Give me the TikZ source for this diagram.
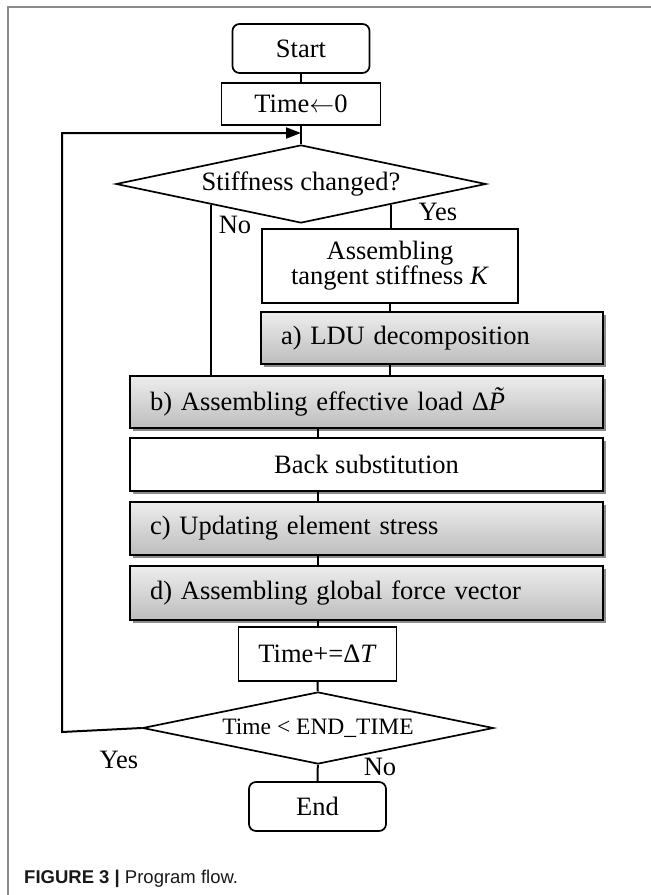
\documentclass[tikz,border=0pt]{standalone}
\usepackage{fontspec}
\setmainfont{Liberation Serif}
\newfontfamily\capfont{Liberation Sans}
\usetikzlibrary{shapes.geometric,arrows.meta,shadows}
\begin{document}
\begin{tikzpicture}[x=1pt,y=-1pt,
  every node/.style={font=\fontsize{26.5}{25}\selectfont, inner sep=0pt},
  plain/.style={draw=black, line width=1.7pt, fill=white, align=center},
  term/.style={plain, rounded corners=7pt},
  shad/.style={drop shadow={shadow xshift=2.5pt, shadow yshift=-2.5pt, fill=black!45, opacity=1}},
  shade/.style={draw=black, line width=1.7pt, top color=black!7, bottom color=black!26, shad},
  lefttext/.style={align=left, inner xsep=20pt},
  dec/.style={draw=black, line width=1.7pt, diamond, fill=white, align=center, shape aspect=4.8},
  conn/.style={line width=2pt},
  lbl/.style={font=\fontsize{26.5}{26}\selectfont}]
\useasboundingbox (0,0) rectangle (651,895);
% frame
\draw[black!45, line width=1.5pt] (651,7) -- (8,7) -- (8,895);
% nodes
\node[term, minimum width=137pt, minimum height=49pt] (start) at (301,48.5) {Start};
\node[plain, minimum width=159pt, minimum height=42pt] (t0) at (301,104) {Time$\leftarrow$0};
\node[dec, minimum width=370pt, minimum height=78pt] (d1) at (301,184) {Stiffness changed?};
\node[plain, minimum width=256pt, minimum height=74pt] (K) at (390,266) {Assembling\\tangent stiffness \textit{K}};
\node[shade, lefttext, text width=302pt, minimum height=52pt] (a) at (432,338) {a) LDU decomposition};
\node[shade, lefttext, text width=433pt, minimum height=52pt] (b) at (366.5,402) {b) Assembling effective load Δ\textit{\~P}};
\node[plain, shad, minimum width=473pt, minimum height=53pt] (back) at (366.5,464.5) {Back substitution};
\node[shade, lefttext, text width=433pt, minimum height=53pt] (c) at (366.5,528.5) {c) Updating element stress};
\node[shade, lefttext, text width=433pt, minimum height=54pt] (d) at (366.5,593) {d) Assembling global force vector};
\node[plain, minimum width=158pt, minimum height=54pt] (tplus) at (317.5,654) {Time+=Δ\textit{T}};
\node[dec, minimum width=351pt, minimum height=72pt, font=\fontsize{23.5}{24}\selectfont] (d2) at (318,728) {Time < END\_TIME};
\node[term, minimum width=137pt, minimum height=49pt] (end) at (317.5,806.5) {End};
% labels
\node[lbl] (yes1) at (438,212) {Yes};
\node[lbl] (no1) at (235,225) {No};
\node[lbl] (yes2) at (119,760) {Yes};
\node[lbl] (no2) at (380,767) {No};
% connectors
\coordinate (tip) at (301,133);
\coordinate (lc) at (62,732);
\draw[conn] (start) -- (t0);
\draw[conn] (t0) -- (d1);
\draw[conn, -{Triangle[length=15pt, width=11pt]}] (d2.west) -- (lc) |- (tip);
\draw[conn] (d1.193) -- (d1.193 |- b.north);
\draw[conn] (d1.347) -- (d1.347 |- K.north);
\draw[conn] (K.south) -- (K.south |- a.north);
\draw[conn] (K.south |- a.south) -- (K.south |- b.north);
\draw[conn] (b.south -| tplus) -- (back.north -| tplus);
\draw[conn] (back.south -| tplus) -- (c.north -| tplus);
\draw[conn] (c.south -| tplus) -- (d.north -| tplus);
\draw[conn] (d.south -| tplus) -- (tplus);
\draw[conn] (tplus) -- (d2);
\draw[conn] (d2) -- (end);
% caption
\node[anchor=base west, font=\capfont\fontsize{18.5}{20}\selectfont, text=black!90] (cap) at (24,883) {\textbf{FIGURE 3 |} Program flow.};
\end{tikzpicture}
\end{document}
